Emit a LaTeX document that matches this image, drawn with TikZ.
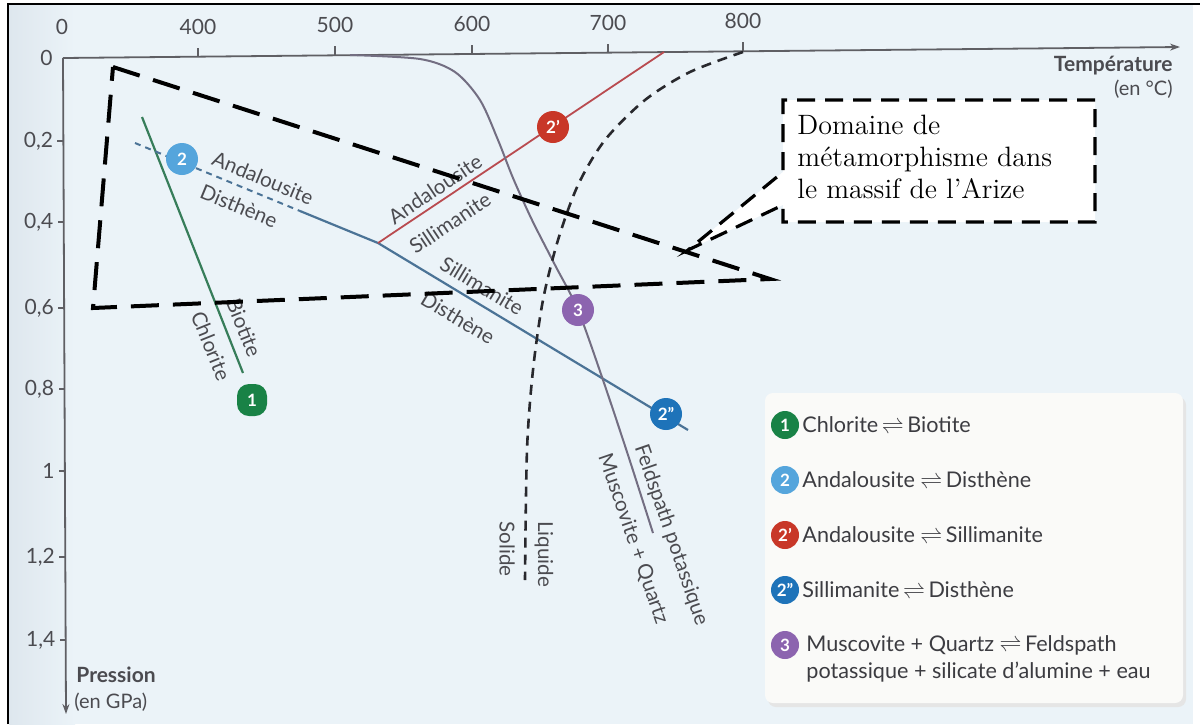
\documentclass[tikz,border=0pt]{standalone}
\usepackage{fontspec}
\setsansfont{Lato}
\usetikzlibrary{arrows.meta,calc}
\definecolor{bgblue}{RGB}{235,243,248}
\definecolor{bgleft}{RGB}{222,231,238}
\definecolor{axisgray}{RGB}{95,95,100}
\definecolor{labgray}{RGB}{75,75,80}
\definecolor{greenline}{RGB}{55,125,90}
\definecolor{blueline}{RGB}{75,115,150}
\definecolor{redline}{RGB}{185,75,80}
\definecolor{grayline}{RGB}{115,110,130}
\definecolor{liqcol}{RGB}{40,40,45}
\definecolor{bgreen}{RGB}{25,130,70}
\definecolor{blight}{RGB}{85,165,220}
\definecolor{bred}{RGB}{200,55,40}
\definecolor{bblue}{RGB}{30,115,185}
\definecolor{bpurple}{RGB}{140,100,175}
\definecolor{legfill}{RGB}{250,250,248}
\definecolor{legtextcol}{RGB}{60,60,65}
\tikzset{
  axisline/.style={draw=axisgray, line width=0.9pt},
  ticklab/.style={font=\sffamily\fontsize{10.5}{12}\selectfont, text=labgray, inner sep=0pt},
  curvelab/.style={font=\sffamily\fontsize{10.3}{12}\selectfont, text=labgray, inner sep=0pt},
  badge/.style={circle, minimum size=16pt, inner sep=0pt, text=white, font=\sffamily\bfseries\fontsize{8.5}{10}\selectfont},
  squarebadge/.style={rectangle, rounded corners=6pt, minimum width=15pt, minimum height=16pt, inner sep=0pt, text=white, font=\sffamily\bfseries\fontsize{8.5}{10}\selectfont},
  legbadge/.style={badge, minimum size=14pt},
  legtext/.style={font=\sffamily\fontsize{10.8}{12}\selectfont, text=legtextcol, inner sep=0pt, anchor=west},
  zonedash/.style={draw=black, line width=2pt, dash pattern=on 14pt off 7pt, line join=miter},
  calloutdash/.style={draw=black, line width=1.6pt, dash pattern=on 9pt off 5pt},
  liqdash/.style={draw=liqcol, line width=1.3pt, dash pattern=on 5pt off 3.5pt},
  axisarrow/.style={-{Stealth[length=5pt,width=3.5pt]}}
}
\begin{document}
\begin{tikzpicture}[x=0.5pt,y=-0.5pt]
\useasboundingbox (0,0) rectangle (1200,724);
% background
\fill[white] (0,0) rectangle (1200,724);
\fill[bgblue] (9,5) rectangle (1193,724);
\shade[left color=bgleft, right color=bgblue] (9,5) rectangle (75,724);
\draw[line width=1.4pt] (8,724) -- (8,4) -- (1200,4);

% axes
\coordinate (O) at (63,58);
\coordinate (Tend) at (1180,47);
\coordinate (Pend) at (66,714);
\draw[axisline, axisarrow] (O) -- (Tend);
\draw[axisline, axisarrow] (O) -- (Pend);
\node[ticklab] (t0) at (62,27) {0};
\foreach \x/\lab in {198/400,335/500,472/600,608/700,743/800}{
  \pgfmathsetmacro\yy{58-(\x-62)*0.00984}
  \draw[axisline] (\x,\yy) -- ++(0,-9);
  \node[ticklab] (t\lab) at (\x,\yy-30) {\lab};
}
\node[ticklab, anchor=east] (p0) at (53,58) {0};
\foreach \y/\lab/\nm in {141/{0,2}/a,222/{0,4}/b,308/{0,6}/c,389/{0,8}/d,471/1/e,557/{1,2}/f,640/{1,4}/g}{
  \pgfmathsetmacro\xx{63+(\y-57)*0.00457}
  \draw[axisline] (\xx,\y) -- ++(-6,0);
  \node[ticklab, anchor=east] (p\nm) at (\xx-10,\y) {\lab};
}
\node[font=\sffamily\bfseries\fontsize{10.5}{12}\selectfont, text=labgray, anchor=east, inner sep=0pt] (Tlab) at (1173,66) {Température};
\node[font=\sffamily\fontsize{10}{12}\selectfont, text=labgray, anchor=east, inner sep=0pt] (Tunit) at (1173,89) {(en °C)};
\node[font=\sffamily\bfseries\fontsize{10.5}{12}\selectfont, text=labgray, anchor=west, inner sep=0pt] (Plab) at (76,675) {Pression};
\node[font=\sffamily\fontsize{10}{12}\selectfont, text=labgray, anchor=west, inner sep=0pt] (Punit) at (74,702) {(en GPa)};

% legend box
\fill[black!10, rounded corners=4pt] (768,397) rectangle (1186,707);
\fill[legfill, rounded corners=4pt] (765,393) rectangle (1183,703);
\node[legbadge, fill=bgreen] (lb1) at (785,425) {1};
\node[legtext] (lt1) at (802,425) {Chlorite\,$\rightleftharpoons$\,Biotite};
\node[legbadge, fill=blight] (lb2) at (785,480) {2};
\node[legtext] (lt2) at (802,480) {Andalousite $\rightleftharpoons$\,Disthène};
\node[legbadge, fill=bred] (lb3) at (785,535) {2'};
\node[legtext] (lt3) at (802,535) {Andalousite $\rightleftharpoons$\,Sillimanite};
\node[legbadge, fill=bblue] (lb4) at (785,590) {2''};
\node[legtext] (lt4) at (802,590) {Sillimanite\,$\rightleftharpoons$\,Disthène};
\node[legbadge, fill=bpurple] (lb5) at (785,645) {3};
\node[legtext] (lt5) at (806,645) {Muscovite + Quartz $\rightleftharpoons$\,Feldspath};
\node[legtext] (lt6) at (806,672) {potassique + silicate d'alumine + eau};

% curves
\coordinate (g1) at (142,117);
\coordinate (g2) at (243,373);
\draw[greenline, line width=1.1pt] (g1) -- (g2);

\coordinate (b0) at (135,143);
\coordinate (b1) at (300,211);
\coordinate (tp) at (378,243);
\coordinate (b3) at (688,430);
\draw[blueline, line width=1pt, dash pattern=on 3pt off 2.5pt] (b0) -- (b1);
\draw[blueline, line width=1.1pt] (b1) -- (tp) -- (b3);

\coordinate (r1) at (664,52);
\draw[redline, line width=0.9pt] (tp) -- (r1);

\draw[grayline, line width=1pt] plot[smooth] coordinates {(350,55) (420,59) (455,72) (480,100) (498,140) (513,178) (532,220) (555,265) (578,310) (603,380) (628,455) (653,533)};

\draw[liqdash] plot[smooth] coordinates {(743,52) (690,72) (645,100) (605,140) (578,185) (558,240) (543,300) (533,370) (527,450) (525,580)};

% badges on chart
\node[squarebadge, fill=bgreen] (B1) at (252,400) {1};
\node[badge, fill=blight] (B2) at (182,159) {2};
\node[badge, fill=bred] (B2p) at (553,127) {2'};
\node[badge, fill=bblue] (B2pp) at (666,414) {2''};
\node[badge, fill=bpurple] (B3) at (578,310) {3};

% curve labels
\node[curvelab, rotate=-68] (lBio) at (244,328) {Biotite};
\node[curvelab, rotate=-68] (lChl) at (211,346) {Chlorite};
\node[curvelab, rotate=-22.5] (lAnd1) at (263,178) {Andalousite};
\node[curvelab, rotate=-22.5] (lDis1) at (239,206) {Disthène};
\node[curvelab, rotate=33.7] (lAnd2) at (435,189) {Andalousite};
\node[curvelab, rotate=33.7] (lSil2) at (450,223) {Sillimanite};
\node[curvelab, rotate=-31] (lSil3) at (482,286) {Sillimanite};
\node[curvelab, rotate=-31] (lDis3) at (458,318) {Disthène};
\node[curvelab, rotate=-71] (lFel) at (671,535) {Feldspath potassique};
\node[curvelab, rotate=-71] (lMus) at (633,539) {Muscovite + Quartz};
\node[curvelab, rotate=-90] (lLiq) at (544,554) {Liquide};
\node[curvelab, rotate=-90] (lSol) at (507,549) {Solide};

% metamorphism zone
\coordinate (A) at (113,67);
\coordinate (Tip) at (770,279);
\coordinate (C) at (93,308);
\draw[zonedash] (A) -- (Tip) -- (C) -- cycle;

% callout
\coordinate (k1) at (1095,100);
\coordinate (k2) at (783,100);
\coordinate (k3) at (783,172);
\coordinate (kt) at (688,250);
\coordinate (k4) at (783,205);
\coordinate (k5) at (783,222);
\coordinate (k6) at (1095,222);
\draw[calloutdash, fill=white] (k1) -- (k2) -- (k3) -- (kt) -- (k4) -- (k5) -- (k6) -- cycle;
\node[anchor=north west, align=left, inner sep=0pt, font=\fontsize{14}{16}\selectfont] (dom) at (797,115) {Domaine de\\métamorphisme dans\\le massif de l’Arize};
\end{tikzpicture}
\end{document}
